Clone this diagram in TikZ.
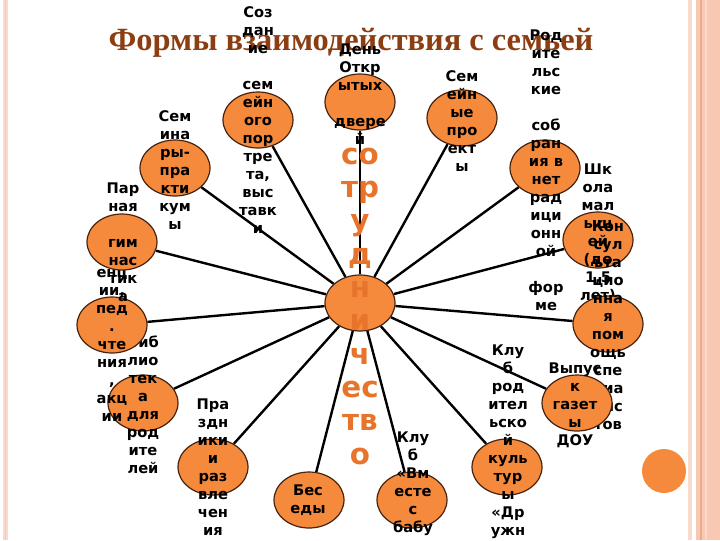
\documentclass[tikz,border=0pt]{standalone}
\usepackage{fontspec}
\setmainfont{Liberation Serif}
\newfontfamily\formfont{DejaVu Sans}
\usetikzlibrary{shapes.geometric, backgrounds}
\definecolor{formorange}{RGB}{246,138,60}
\definecolor{formedge}{RGB}{70,35,15}
\definecolor{coopcolor}{RGB}{232,116,44}
\definecolor{titlebrown}{RGB}{140,62,18}
\definecolor{peach}{RGB}{249,200,178}
\definecolor{peachdark}{RGB}{236,170,142}
\definecolor{peachlight}{RGB}{250,218,205}
\tikzstyle{form}=[ellipse, draw=formedge, line width=0.9pt, fill=formorange, minimum width=52.5pt, minimum height=42pt, inner sep=0pt]
\tikzstyle{formtext}=[font={\formfont\bfseries\fontsize{11}{13.5}\selectfont}, align=center, inner sep=0pt]
\tikzstyle{link}=[line width=1.8pt]

\begin{document}
\begin{tikzpicture}[x=0.75pt, y=-0.75pt]
    \useasboundingbox (0,0) rectangle (720,540);
    % slide borders and dot
    \fill[peachlight] (3,0) rectangle (8,540);
    \draw[peach, line width=1pt] (5.5,0) -- (5.5,540);
    \fill[peachlight] (688,0) rectangle (692,540);
    \fill[peach] (696,0) rectangle (720,540);
    \draw[peachdark, line width=1.2pt] (701,0) -- (701,540);
    \draw[peachlight, line width=1pt] (706,0) -- (706,540);
    \fill[formorange] (664,471) circle (22);
    \node[font=\bfseries\fontsize{24.3}{29}\selectfont, text=titlebrown, anchor=base] (title) at (351,50) {Формы взаимодействия с семьей};

    \node[form] (den) at (360,102) {};
    \node[formtext] (den-t) at (360,94) {День\\Откр\\ытых\\~\\двере\\й};
    \node[form] (sozd) at (258,120) {};
    \node[formtext] (sozd-t) at (258,120) {Соз\\дан\\ие\\~\\сем\\ейн\\ого\\пор\\тре\\та,\\выс\\тавк\\и};
    \node[form] (proekt) at (462,118) {};
    \node[formtext] (proekt-t) at (462,121) {Сем\\ейн\\ые\\про\\ект\\ы};
    \node[form] (seminar) at (175,168) {};
    \node[formtext] (seminar-t) at (175,170) {Сем\\ина\\ры-\\пра\\кти\\кум\\ы};
    \node[form] (sobr) at (545,168) {};
    \node[formtext] (sobr-t) at (546,170) {Род\\ите\\льс\\кие\\~\\соб\\ран\\ия в\\нет\\рад\\ици\\онн\\ой\\~\\фор\\ме};
    \node[form] (shkola) at (598,240) {};
    \node[formtext] (shkola-t) at (598,233) {Шк\\ола\\мал\\ыш\\ей\\(до\\1,5\\лет)};
    \node[form] (konsult) at (608,324) {};
    \node[formtext] (konsult-t) at (608,325) {Кон\\сул\\ьта\\цио\\нна\\я\\пом\\ощь\\спе\\циа\\лис\\тов};
    \node[form] (gazeta) at (577,403) {};
    \node[formtext] (gazeta-t) at (575,405) {Выпус\\к\\газет\\ы\\ДОУ};
    \node[form] (biblio) at (143,403) {};
    \node[formtext] (biblio-t) at (143,405) {Биб\\лио\\тек\\а\\для\\род\\ите\\лей};
    \node[form] (chten) at (112,325) {};
    \node[formtext] (chten-t) at (112,326) {Кон\\фер\\енц\\ии,\\пед\\.\\чте\\ния\\,\\акц\\ии};
    \node[form] (gimn) at (122,242) {};
    \node[formtext] (gimn-t) at (123,242) {Пар\\ная\\~\\гим\\нас\\тик\\а};
    \node[form] (prazd) at (213,467) {};
    \node[formtext] (prazd-t) at (213,467) {Пра\\здн\\ики\\и\\раз\\вле\\чен\\ия};
    \node[form] (besedy) at (309,500) {};
    \node[formtext] (besedy-t) at (308,500) {Бес\\еды};
    \node[form] (babush) at (412,500) {};
    \node[formtext] (babush-t) at (413,500) {Клу\\б\\«Вм\\есте\\с\\бабу\\шко\\й»};
    \node[form] (kultura) at (507,467) {};
    \node[formtext] (kultura-t) at (508,467) {Клу\\б\\род\\ител\\ьско\\й\\куль\\тур\\ы\\«Др\\ужн\\ая\\сем\\ья»};

    \node[form] (center) at (360,303) {};
    \node[font={\formfont\bfseries\fontsize{22}{25}\selectfont}, text=coopcolor, align=center, inner sep=0pt] (coop) at (360,306) {со\\тр\\у\\д\\н\\и\\ч\\ес\\тв\\о};

    \begin{pgfonlayer}{background}
        \foreach \n in {den,sozd,proekt,seminar,sobr,shkola,konsult,gazeta,biblio,chten,gimn,prazd,besedy,babush,kultura}
            \draw[link] (center) -- (\n);
    \end{pgfonlayer}
\end{tikzpicture}
\end{document}
